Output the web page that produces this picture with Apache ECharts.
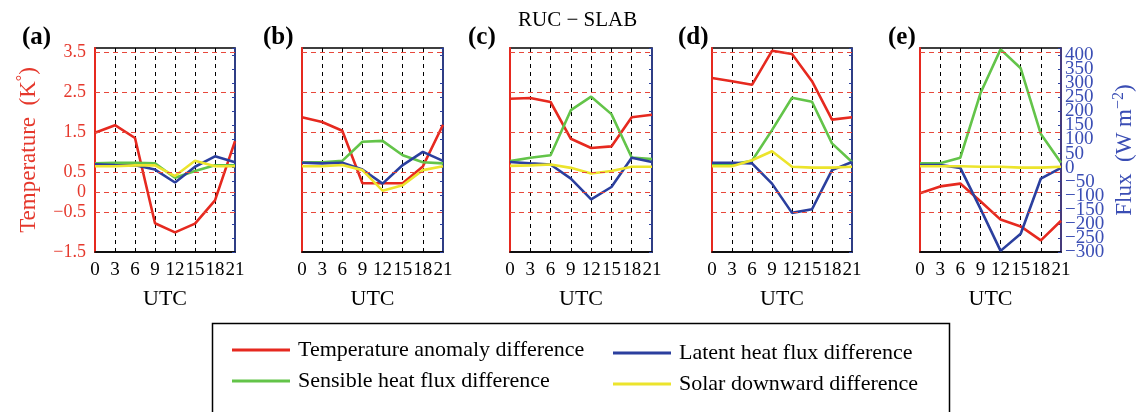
<!DOCTYPE html>
<html>
<head>
<meta charset="utf-8">
<script src="https://cdn.jsdelivr.net/npm/echarts@6/dist/echarts.min.js"></script>
<style>
  html, body { margin: 0; padding: 0; background: #fff; }
  #chart { width: 1141px; height: 412px; }
</style>
</head>
<body>
<div id="chart"></div>
<script>
// Hours of the day (UTC) shared by every panel
const utc = [0, 3, 6, 9, 12, 15, 18, 21];
const panelLabels = ['(a)', '(b)', '(c)', '(d)', '(e)'];

// Temperature anomaly difference (K)
const tempA = [1.48, 1.67, 1.35, -0.78, -1.01, -0.79, -0.21, 1.27];
const tempB = [1.87, 1.75, 1.53, 0.22, 0.22, 0.22, 0.64, 1.68];
const tempC = [2.33, 2.35, 2.25, 1.33, 1.10, 1.14, 1.87, 1.93];
const tempD = [2.85, 2.77, 2.68, 3.53, 3.45, 2.77, 1.81, 1.87];
const tempE = [-0.03, 0.14, 0.21, -0.23, -0.69, -0.86, -1.21, -0.72];

// Sensible heat flux difference (W m-2)
const sensA = [15, 17, 17, 15, -36, -12, 8, 8];
const sensB = [19, 19, 24, 92, 95, 44, 19, 15];
const sensC = [23, 35, 44, 204, 252, 190, 36, 30];
const sensD = [11, 11, 24, 133, 248, 234, 86, 20];
const sensE = [15, 15, 35, 264, 420, 353, 119, 17];

// Latent heat flux difference (W m-2)
const latA = [12, 9, 8, -7, -53, 3, 40, 19];
const latB = [17, 15, 17, -7, -57, 9, 56, 24];
const latC = [20, 15, 11, -39, -113, -69, 35, 20];
const latD = [17, 17, 15, -57, -161, -148, -9, 20];
const latE = [9, 9, -1, -146, -296, -235, -39, -1];

// Solar downward difference (W m-2)
const solA = [5, 5, 8, 8, -30, 24, 5, 5];
const solB = [5, 5, 9, -9, -82, -63, -9, 5];
const solC = [6, 8, 11, -1, -21, -12, 3, 3];
const solD = [5, 5, 26, 58, 3, 0, 0, 3];
const solE = [5, 5, 5, 3, 3, 0, 0, 3];

// Axis ticks
const tempTicks = [-1.5, -0.5, 0, 0.5, 1.5, 2.5, 3.5];
const tempGridLines = [3.5, 2.5, 1.5, 0.5, 0, -0.5];
const fluxTicks = [-300, -250, -200, -150, -100, -50, 0, 50, 100, 150, 200, 250, 300, 350, 400];

const temps = [tempA, tempB, tempC, tempD, tempE];
const sens = [sensA, sensB, sensC, sensD, sensE];
const lats = [latA, latB, latC, latD, latE];
const sols = [solA, solB, solC, solD, solE];

const NAME_T = 'Temperature anomaly difference';
const NAME_S = 'Sensible heat flux difference';
const NAME_L = 'Latent heat flux difference';
const NAME_R = 'Solar downward difference';

const FONT = 'Liberation Serif';
const RED = '#e6291f';
const GREEN = '#63c449';
const BLUE = '#2b3f9e';
const YELLOW = '#ece42c';
const RED_TXT = '#e5382c';
const BLUE_TXT = '#3a4db4';

const lefts = [95, 302, 510, 712, 920];
const widths = [140, 141, 142, 140, 141];

const minus = s => String(s).replace('-', '\u2212');

const grid = [], xAxis = [], yAxis = [], series = [];

lefts.forEach((left, i) => {
  grid.push({
    left: left, top: 48, width: widths[i], height: 204,
    show: true, borderColor: '#000', borderWidth: 1.5, backgroundColor: 'transparent'
  });

  xAxis.push({
    type: 'value', gridIndex: i, min: 0, max: 21, interval: 3,
    axisLine: { show: true, onZero: false, lineStyle: { color: '#000', width: 1.5 } },
    axisTick: { show: false },
    axisLabel: {
      fontFamily: FONT, fontSize: 19, color: '#000', margin: 9,
      showMinLabel: true, showMaxLabel: true, hideOverlap: false
    },
    splitLine: {
      show: true, showMinLine: false, showMaxLine: false,
      lineStyle: { color: '#000', type: [4, 4], width: 1 }
    },
    name: 'UTC', nameLocation: 'middle', nameGap: 36,
    nameTextStyle: { fontFamily: FONT, fontSize: 22, color: '#000' }
  });

  // Temperature axis (left, red)
  yAxis.push({
    type: 'value', gridIndex: i, position: 'left',
    min: -1.5, max: 3.6, interval: 0.5,
    axisLine: { show: true, onZero: false, lineStyle: { color: RED, width: 2 } },
    axisTick: { show: false },
    splitLine: { show: false },
    axisLabel: {
      show: i === 0, fontFamily: FONT, fontSize: 18, color: RED_TXT, margin: 9,
      showMinLabel: true, showMaxLabel: false, hideOverlap: false,
      formatter: v => {
        const hit = tempTicks.find(t => Math.abs(t - v) < 1e-6);
        return hit === undefined ? '' : minus(hit);
      }
    },
    name: i === 0 ? 'Temperature  (K{sup|\u00b0})' : '',
    nameLocation: 'middle', nameRotate: 90, nameGap: 52,
    nameTextStyle: {
      fontFamily: FONT, fontSize: 23, color: RED_TXT,
      rich: { sup: { fontFamily: FONT, fontSize: 16, color: RED_TXT, padding: [0, 0, 12, 0] } }
    }
  });

  // Flux axis (right, blue); its numbers are placed by a label series below
  yAxis.push({
    type: 'value', gridIndex: i, position: 'right',
    min: -300, max: 425, interval: 50,
    axisLine: { show: true, onZero: false, lineStyle: { color: i === 4 ? '#4a3a90' : BLUE, width: 1.5 } },
    axisTick: { show: true, inside: true, length: 3, lineStyle: { color: BLUE, width: 1 } },
    splitLine: { show: false },
    axisLabel: { show: false },
    name: i === 4 ? 'Flux  (W m{sup|\u22122})' : '',
    nameLocation: 'middle', nameRotate: 90, nameGap: 50,
    nameMoveOverlap: false,
    nameTextStyle: {
      fontFamily: FONT, fontSize: 23, color: BLUE_TXT,
      rich: { sup: { fontFamily: FONT, fontSize: 16, color: BLUE_TXT, padding: [0, 0, 12, 0] } }
    }
  });

  const pair = arr => utc.map((h, k) => [h, arr[k]]);
  const lineBase = (name, color, yIdx, data) => ({
    type: 'line', name: name, xAxisIndex: i, yAxisIndex: yIdx,
    data: pair(data), symbol: 'none', color: color,
    lineStyle: { color: color, width: 2.6 }, silent: true
  });

  const t = lineBase(NAME_T, RED, 2 * i, temps[i]);
  t.markLine = {
    silent: true, symbol: ['none', 'none'], label: { show: false },
    lineStyle: { color: '#e8483c', type: [5, 4], width: 1 },
    emphasis: { disabled: true },
    data: tempGridLines.map(v => ({ yAxis: v }))
  };
  series.push(t);
  series.push(lineBase(NAME_S, GREEN, 2 * i + 1, sens[i]));
  series.push(lineBase(NAME_L, BLUE, 2 * i + 1, lats[i]));
  series.push(lineBase(NAME_R, YELLOW, 2 * i + 1, sols[i]));
});

// Flux tick numbers along the right edge of the last panel
series.push({
  type: 'scatter', name: 'flux-scale', xAxisIndex: 4, yAxisIndex: 9,
  data: fluxTicks.map(v => [21, v]),
  symbolSize: 0, silent: true, clip: false, z: 5,
  itemStyle: { opacity: 1 },
  label: {
    show: true, position: 'right', distance: 4, opacity: 1,
    fontFamily: FONT, fontSize: 19, color: BLUE_TXT,
    textBorderWidth: 0,
    formatter: p => minus(p.value[1])
  },
  labelLayout: { hideOverlap: false }
});

const labelLefts = [22, 263, 468, 678, 888];
const graphic = panelLabels.map((txt, i) => ({
  type: 'text', left: labelLefts[i], top: 25,
  style: { text: txt, font: 'bold 25px "Liberation Serif"', fill: '#000' }
}));
graphic.push({
  type: 'text', left: 518, top: 10,
  style: { text: 'RUC \u2212 SLAB', font: '21px "Liberation Serif"', fill: '#000' }
});
graphic.push({
  type: 'rect', silent: true,
  shape: { x: 212.5, y: 323.5, width: 737, height: 100 },
  style: { fill: 'none', stroke: '#000', lineWidth: 1.5 }
});

const legendCommon = {
  orient: 'vertical', icon: 'rect', itemWidth: 58, itemHeight: 3, itemGap: 9,
  selectedMode: false,
  textStyle: { fontFamily: FONT, fontSize: 22, color: '#000', lineHeight: 22, padding: [0, 0, 0, 3] }
};

const option = {
  animation: false,
  backgroundColor: '#fff',
  grid: grid,
  xAxis: xAxis,
  yAxis: yAxis,
  series: series,
  graphic: graphic,
  legend: [
    Object.assign({ left: 227, top: 334, data: [NAME_T, NAME_S] }, legendCommon),
    Object.assign({ left: 608, top: 337, data: [NAME_L, NAME_R] }, legendCommon)
  ]
};

const chart = echarts.init(document.getElementById('chart'), null, { renderer: 'canvas' });
chart.setOption(option);
</script>
</body>
</html>
